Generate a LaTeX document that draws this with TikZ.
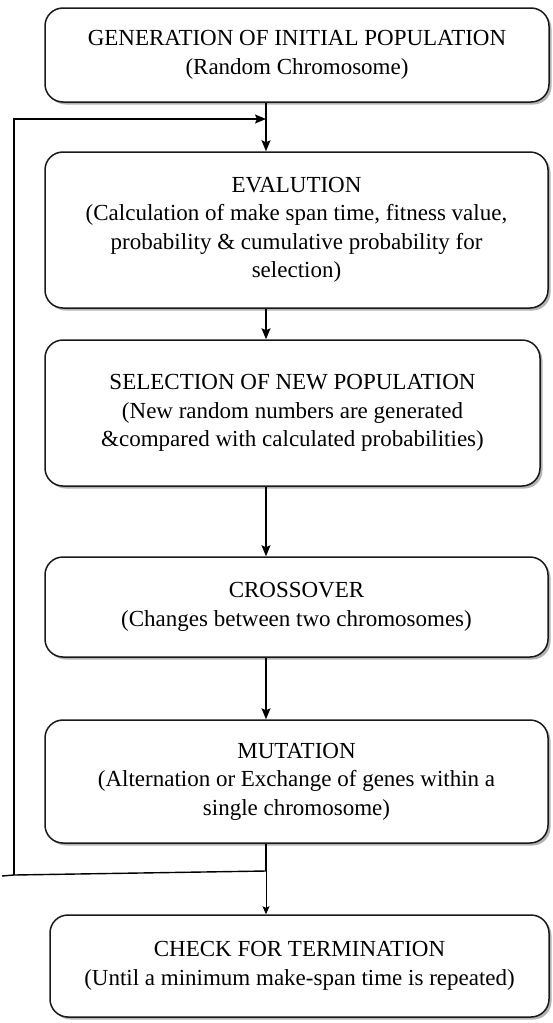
\documentclass[tikz,border=0pt]{standalone}
\usepackage{fontspec}
\setmainfont{Liberation Serif}
\usetikzlibrary{arrows.meta,shadows}
\begin{document}
\begin{tikzpicture}[x=1pt,y=-1pt,
  box/.style={draw=black!90, line width=1.5pt, rounded corners=18pt, fill=white,
    align=center, inner sep=0pt, font=\fontsize{23}{28.5}\selectfont,
    drop shadow={shadow xshift=2.5pt, shadow yshift=-2.5pt, fill=black!50, opacity=0.6}},
  flow/.style={line width=1.4pt, -{Stealth[length=11pt,width=9pt,inset=2pt]}},
  thinflow/.style={line width=1pt, -{Stealth[length=8pt,width=7pt,inset=1.5pt]}},
  plain/.style={line width=1.4pt}
  ]
\useasboundingbox (0,0) rectangle (552,1023);
\node[box, minimum width=504pt, minimum height=94pt] (b1) at (297,55)
  {GENERATION OF INITIAL POPULATION\\(Random Chromosome)};
\node[box, minimum width=503pt, minimum height=156pt] (b2) at (296.5,230)
  {EVALUTION\\(Calculation of make span time, fitness value,\\probability \& cumulative probability for\\selection)};
\node[box, minimum width=495pt, minimum height=146pt] (b3) at (292.5,413)
  {SELECTION OF NEW POPULATION\\ (New random numbers are generated\\\&compared with calculated probabilities)};
\node[box, minimum width=503pt, minimum height=100pt] (b4) at (296.5,607)
  {CROSSOVER\\(Changes between two chromosomes)};
\node[box, minimum width=503pt, minimum height=123pt] (b5) at (296.5,781.5)
  {MUTATION\\(Alternation or Exchange of genes within a\\single chromosome)};
\node[box, minimum width=499pt, minimum height=102pt] (b6) at (299.5,966)
  {CHECK FOR TERMINATION\\(Until a minimum make-span time is repeated)};
\coordinate (ax) at (266,0);
\coordinate (j) at (266,871);
\coordinate (fl) at (14,875);
\coordinate (fe) at (2,876);
\coordinate (ft) at (14,119);
\coordinate (fa) at (266,119);
\draw[flow] (b1.south -| ax) -- (b2.north -| ax);
\draw[flow] (b2.south -| ax) -- (b3.north -| ax);
\draw[flow] (b3.south -| ax) -- (b4.north -| ax);
\draw[flow] (b4.south -| ax) -- (b5.north -| ax);
\draw[plain] (b5.south -| ax) -- (j);
\draw[thinflow] (j) -- (b6.north -| ax);
\draw[plain] (j) -- (fl) -- (fe);
\draw[flow] (fl) -- (ft) -- (fa);
\end{tikzpicture}
\end{document}
